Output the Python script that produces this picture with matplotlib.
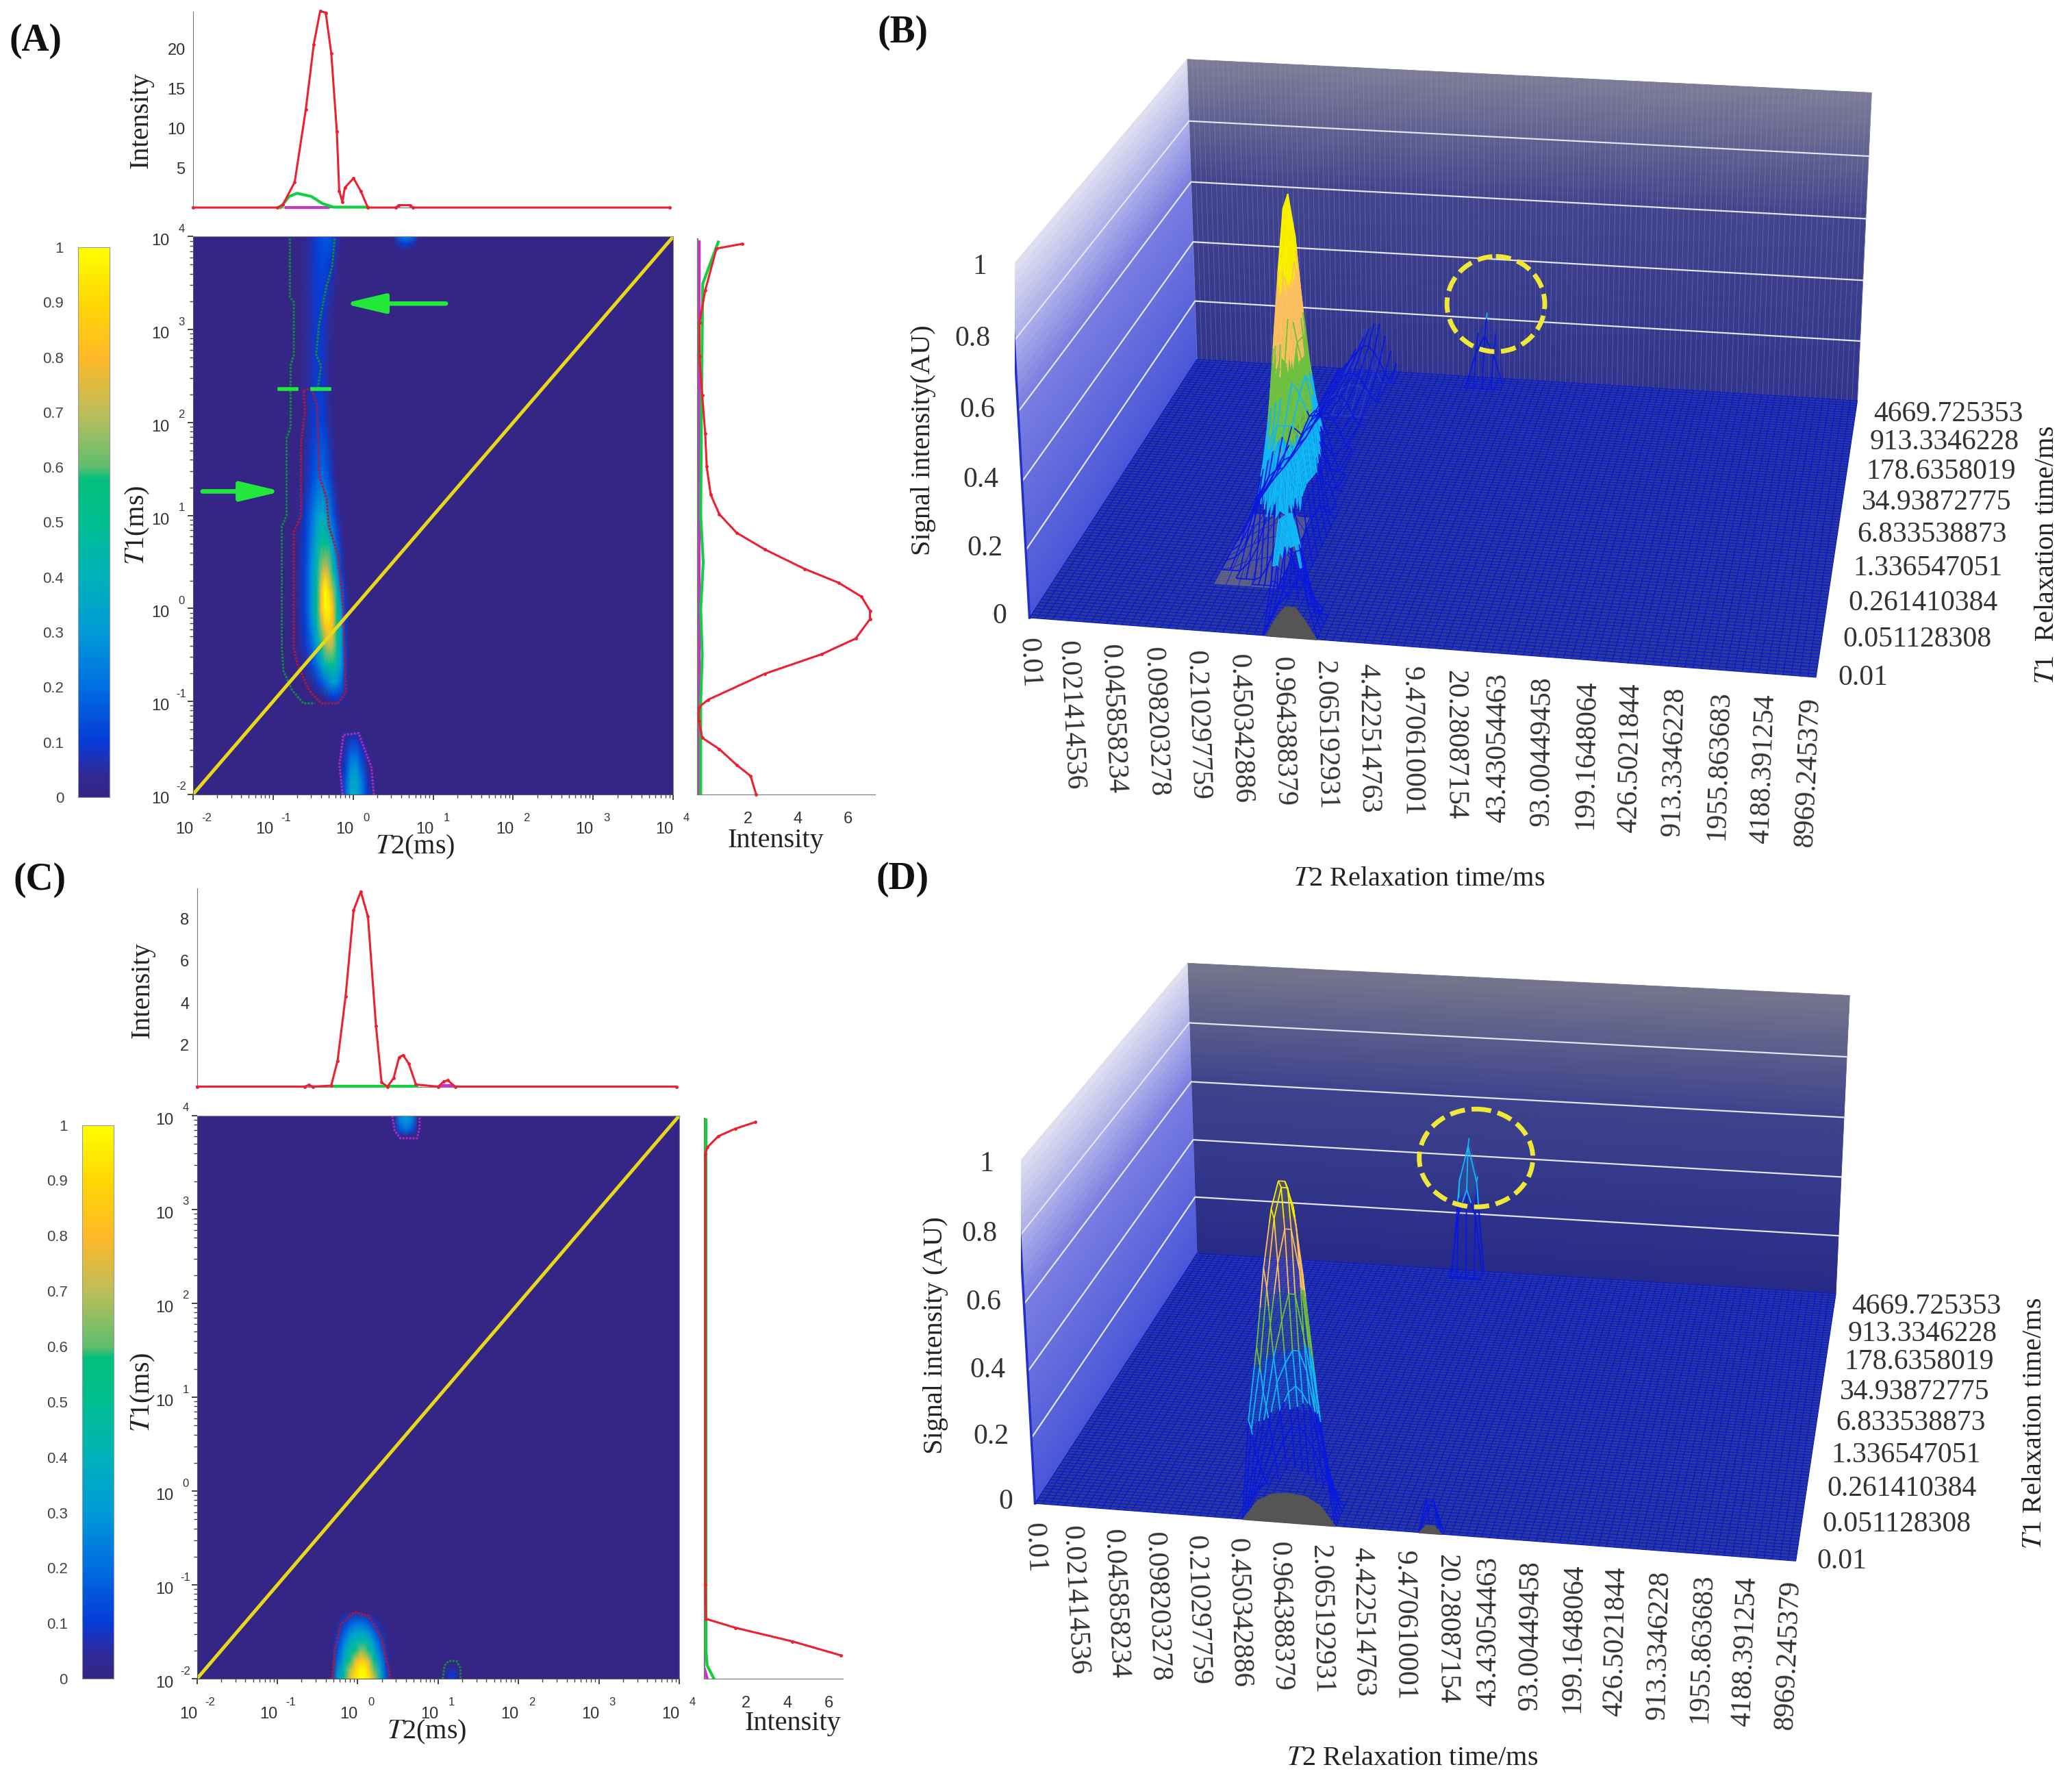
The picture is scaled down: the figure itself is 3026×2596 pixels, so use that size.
import numpy as np
import matplotlib
matplotlib.use('Agg')
import matplotlib.pyplot as plt
from matplotlib.colors import LinearSegmentedColormap
from matplotlib.patches import Ellipse
from mpl_toolkits.mplot3d.art3d import Poly3DCollection, Line3DCollection

plt.rcParams['font.family'] = ['Liberation Serif', 'DejaVu Serif']
plt.rcParams['mathtext.fontset'] = 'stix'

W, H = 1568.0, 1345.0
fig = plt.figure(figsize=(30.26, 25.96), dpi=100, facecolor='white')

# ---- colours
cmap_pos = [0, .04, .07, .1, .2, .3, .4, .5, .58, .6, .7, .8, .9, 1]
cmap_rgb = [(53, 38, 134), (48, 42, 150), (30, 50, 185), (5, 60, 215), (0, 110, 225), (0, 155, 215), (0, 178, 185),
            (0, 190, 145), (5, 190, 125), (95, 190, 110), (190, 190, 90), (255, 185, 40), (255, 215, 5), (255, 255, 0)]
parula = LinearSegmentedColormap.from_list('p', [(p, tuple(c / 255 for c in r)) for p, r in zip(cmap_pos, cmap_rgb)])

# ---- panel A heat data, log10 T2 / log10 T1
a_main_t2 = [-.75, -.68, -.6, -.52, -.45, -.4, -.35, -.3, -.25, -.2, -.15, -.1, -.05]
a_main_t1 = [-1.05, -.95, -.8, -.6, -.4, -.2, 0, .2, .4, .7, 1, 1.4, 2, 2.6, 3.2, 3.7, 4]
a_main_z = [
    [0, 0, 0, 0, 0, 0, 0, 0, 0, 0, 0, 0, 0],
    [0, 0, 0, 0, 0, .01, .04, .08, .1, .1, .08, .03, 0],
    [0, 0, 0, .03, .08, .14, .2, .26, .3, .28, .2, .08, 0],
    [0, .01, .04, .12, .22, .32, .42, .5, .5, .42, .3, .12, 0],
    [0, .02, .08, .18, .32, .5, .65, .72, .68, .52, .32, .12, 0],
    [0, .04, .1, .24, .42, .65, .82, .88, .78, .56, .32, .1, 0],
    [0, .05, .12, .28, .5, .8, .98, .97, .8, .55, .3, .1, 0],
    [0, .05, .12, .28, .48, .78, 1.0, .88, .66, .42, .2, .06, 0],
    [0, .05, .12, .28, .45, .66, .78, .68, .48, .28, .12, .02, 0],
    [0, .04, .1, .24, .38, .5, .52, .44, .3, .16, .06, 0, 0],
    [0, .03, .09, .2, .3, .36, .34, .26, .15, .07, .01, 0, 0],
    [0, .01, .05, .12, .18, .2, .18, .13, .06, .01, 0, 0, 0],
    [0, 0, .03, .08, .11, .11, .09, .05, .01, 0, 0, 0, 0],
    [0, 0, .03, .07, .09, .09, .07, .03, 0, 0, 0, 0, 0],
    [0, 0, .03, .07, .09, .09, .08, .05, .02, 0, 0, 0, 0],
    [0, 0, .03, .07, .1, .12, .12, .1, .07, .03, 0, 0, 0],
    [0, 0, .02, .07, .11, .14, .16, .16, .12, .07, .03, 0, 0]]
a_low_t2 = [-.17, -.1, -.03, .04, .11, .18, .25]
a_low_t1 = [-2, -1.85, -1.7, -1.55, -1.4, -1.3]
a_low_z = [
    [0, .16, .34, .36, .24, .1, 0],
    [0, .14, .32, .34, .22, .08, 0],
    [0, .1, .26, .28, .16, .04, 0],
    [0, .07, .18, .19, .09, .01, 0],
    [0, .03, .08, .08, .02, 0, 0],
    [0, 0, 0, 0, 0, 0, 0]]
a_top_t2 = [.5, .58, .66, .74, .82]
a_top_t1 = [3.85, 3.93, 4]
a_top_z = [[0, 0, 0, 0, 0], [0, .08, .12, .08, 0], [0, .2, .26, .2, 0]]

# ---- panel A contours
a_green_l_t2 = [-.79, -.79, -.74, -.74, -.78, -.78, -.83, -.83, -.89, -.89, -.87, -.76, -.62, -.48]
a_green_l_t1 = [3.98, 3.35, 3.3, 2.73, 2.61, 1.95, 1.83, 1.0, .88, -.43, -.67, -.88, -1.02, -1.02]
a_green_r_t2 = [-.23, -.26, -.33, -.37, -.43, -.46, -.4, -.44]
a_green_r_t1 = [3.98, 3.68, 3.47, 3.3, 3.03, 2.73, 2.61, 2.37]
a_red_t2 = [-.62, -.52, -.45, -.42, -.33, -.3, -.19, -.16, -.12, -.09, -.19, -.4, -.55, -.69, -.74, -.74, -.65, -.65, -.6, -.62]
a_red_t1 = [2.34, 2.37, 2.19, 1.42, 1.18, .88, .58, .34, -.01, -.91, -1.02, -1.02, -.88, -.61, -.43, .82, 1.0, 1.77, 2.13, 2.34]
a_mag_t2 = [-.13, -.17, -.12, .07, .13, .23, .26]
a_mag_t1 = [-2, -1.68, -1.36, -1.34, -1.48, -1.71, -2]

# ---- panel A marginals
a_top_red_t2 = [-2, -.94, -.87, -.72, -.58, -.48, -.4, -.33, -.26, -.19, -.16, -.12, -.09, .02, .11, .2, .55, .59, .73, .77, 4]
a_top_red_v = [0, 0, .35, 3.2, 12.4, 20.6, 24.8, 24.6, 19.5, 9.6, 2.1, .7, 2.5, 3.7, 2.1, 0, 0, .3, .3, 0, 0]
a_top_green_t2 = [-.9, -.79, -.69, -.51, -.37, -.23, .2]
a_top_green_v = [0, 1.4, 1.8, 1.4, .5, .05, .05]
a_top_mag_t2 = [-.83, -.3]
a_top_mag_v = [0, 0]
a_side_red_v = [2.34, 2.11, 1.55, .86, .18, .05, .05, .41, 2.68, 4.95, 6.32, 6.89, 6.89, 6.55, 5.64, 4.27, 2.68, 1.55, .86, .52, .36, .30, .18, .07, .07, .30, .75, 1.77]
a_side_red_t1 = [-2, -1.8, -1.68, -1.51, -1.39, -1.21, -1.06, -.98, -.7, -.49, -.32, -.11, -.02, .13, .28, .43, .64, .82, 1.02, 1.23, 1.53, 1.89, 2.3, 2.72, 3.08, 3.43, 3.88, 3.93]
a_side_green_v = [.12, .12, .18, .12, .22, .12, .15, .2, .82]
a_side_green_t1 = [-2, -1, -.5, 0, .5, 1, 2.2, 3.5, 3.95]
a_side_mag_v = [.06, .06]
a_side_mag_t1 = [-2, 3.95]

# ---- panel C heat data
c_main_t2 = [-.32, -.25, -.17, -.1, -.03, .03, .08, .14, .2, .28, .36, .42]
c_main_t1 = [-2, -1.9, -1.8, -1.7, -1.6, -1.5, -1.4, -1.3]
c_main_z = [
    [0, .3, .52, .75, .92, 1.0, 1.0, .93, .75, .45, .15, 0],
    [0, .26, .45, .68, .88, .97, .97, .86, .62, .36, .11, 0],
    [0, .18, .36, .56, .74, .84, .84, .72, .5, .28, .08, 0],
    [0, .14, .3, .45, .56, .64, .64, .52, .38, .2, .05, 0],
    [0, .1, .24, .36, .42, .46, .46, .4, .28, .14, .02, 0],
    [0, .06, .16, .26, .32, .34, .32, .28, .18, .08, 0, 0],
    [0, .02, .1, .16, .2, .2, .18, .14, .08, .02, 0, 0],
    [0, 0, .02, .05, .06, .05, .04, .02, 0, 0, 0, 0]]
c_top_t2 = [.45, .52, .6, .68, .75]
c_top_t1 = [3.78, 3.85, 3.93, 4]
c_top_z = [[0, 0, 0, 0, 0], [0, .14, .2, .14, 0], [0, .22, .3, .22, 0], [0, .24, .32, .24, 0]]
c_small_t2 = [1.08, 1.14, 1.2, 1.26]
c_small_t1 = [-2, -1.92, -1.85]
c_small_z = [[0, .1, .1, 0], [0, .07, .07, 0], [0, 0, 0, 0]]

c_red_t2 = [-.32, -.28, -.21, -.04, .14, .29, .36, .41]
c_red_t1 = [-2, -1.67, -1.42, -1.29, -1.33, -1.55, -1.8, -2]
c_mag_t2 = [.43, .46, .53, .74, .77, .77]
c_mag_t1 = [4, 3.84, 3.76, 3.76, 3.87, 4]
c_green_t2 = [1.06, 1.08, 1.13, 1.23, 1.28, 1.28]
c_green_t1 = [-2, -1.86, -1.81, -1.81, -1.89, -2]

c_top_red_t2 = [-2, -.65, -.6, -.55, -.32, -.24, -.14, -.04, .05, .14, .24, .31, .385, .46, .53, .58, .65, .74, 1.02, 1.09, 1.14, 1.23, 4]
c_top_red_v = [0, 0, .08, 0, .05, 1.24, 4.3, 8.4, 9.3, 8.1, 2.9, .2, 0, .4, 1.4, 1.5, 1.1, .1, 0, .25, .3, 0, 0]
c_top_green_t2 = [-.32, .75]
c_top_green_v = [.02, .02]
c_top_mag_t2 = [1.05, 1.2]
c_top_mag_v = [.06, .06]
c_side_red_v = [6.6, 4.25, 1.5, .08, .05, .05, .14, .68, 1.5, 2.47]
c_side_red_t1 = [-1.75, -1.6, -1.455, -1.36, -1, 3.6, 3.67, 3.79, 3.87, 3.94]
c_side_green_v = [.47, .14, .08, .08]
c_side_green_t1 = [-2, -1.86, -1.7, 3.97]
c_side_mag_v = [.14, .02]
c_side_mag_t1 = [-2, -1.9]

# ---- 3D panel ticks
t2_labels = ['0.01', '0.021414536', '0.045858234', '0.098203278', '0.210297759', '0.450342886', '0.964388379',
             '2.065192931', '4.422514763', '9.470610001', '20.28087154', '43.43054463', '93.00449458',
             '199.1648064', '426.5021844', '913.3346228', '1955.863683', '4188.391254', '8969.245379']
t1_labels = ['0.01', '0.051128308', '0.261410384', '1.336547051', '6.833538873', '34.93872775', '178.6358019',
             '913.3346228', '4669.725353']
z_ticks = [0, .2, .4, .6, .8, 1]
z_labels = ['0', '0.2', '0.4', '0.6', '0.8', '1']

# spike heights in the 3D views, which differ from the flat map colours
b_tail_t2 = [-.62, -.52, -.44, -.36, -.28, -.2]
b_tail_t1 = [2.8, 3.2, 3.6, 4]
b_tail_z = [[0, 0, 0, 0, 0, 0], [0, .03, .05, .05, .03, 0], [0, .06, .1, .1, .06, 0], [0, .07, .14, .14, .07, 0]]
b_skirt_t2 = [-.75, -.65, -.55, -.45, -.35, -.25]
b_skirt_t1 = [-1.1, -.8, -.5, -.2, .1, .4]
b_skirt_z = [[0, 0, 0, 0, 0, 0], [0, .01, .03, .04, .05, 0], [0, .02, .04, .06, .07, 0],
             [0, .02, .04, .06, .08, 0], [0, .01, .03, .05, .06, 0], [0, 0, 0, 0, 0, 0]]
b_spike_t2 = [.52, .6, .68, .76, .84]
b_spike_t1 = [3.7, 3.85, 4]
b_spike_z = [[0, 0, 0, 0, 0], [0, .1, .16, .1, 0], [0, .15, .22, .15, 0]]
d_spike_z = [[0, 0, 0, 0, 0], [0, .21, .3, .21, 0], [0, .32, .44, .32, 0], [0, .33, .46, .33, 0]]
b_dome_t2 = [-.15, -.08, 0, .08, .16, .24]
b_dome_z = [0, .05, .09, .09, .05, 0]
d_dome_t2 = [-.32, -.2, -.08, .05, .18, .3, .42]
d_dome_z = [0, .06, .085, .09, .085, .06, 0]
d_dome2_t2 = [1.08, 1.14, 1.2, 1.26]
d_dome2_z = [0, .025, .025, 0]


def add_ax(x0, y0, x1, y1, **kw):
    return fig.add_axes([x0 / W, 1 - y1 / H, (x1 - x0) / W, (y1 - y0) / H], **kw)


def pw(v):
    return 10.0 ** np.asarray(v, dtype=float)


def heat_panel(box, patches, contours):
    ax = add_ax(*box)
    ax.set_facecolor(parula(0.0))
    ax.set_xscale('log')
    ax.set_yscale('log')
    for t2, t1, z in patches:
        ax.pcolormesh(pw(t2), pw(t1), np.array(z), cmap=parula, vmin=0, vmax=1, shading='gouraud')
    for t2, t1, col in contours:
        ax.plot(pw(t2), pw(t1), color=col, lw=2.2, ls=(0, (1, .6)))
    ax.plot([1e-2, 1e4], [1e-2, 1e4], color='#e8d818', lw=3.6)
    ax.set_xlim(1e-2, 1e4)
    ax.set_ylim(1e-2, 1e4)
    ax.spines['top'].set_color('#888888')
    ax.spines['right'].set_color('#888888')
    ax.spines['left'].set_color('#555555')
    ax.spines['bottom'].set_color('#555555')
    ax.set_xticks(pw([-2, -1, 0, 1, 2, 3, 4]))
    ax.set_yticks(pw([-2, -1, 0, 1, 2, 3, 4]))
    ax.tick_params(which='major', length=6, width=1.4, color='#444444', labelbottom=False, labelleft=False)
    ax.tick_params(which='minor', length=3.5, width=1, color='#444444', labelbottom=False, labelleft=False)
    for e in [-2, -1, 0, 1, 2, 3, 4]:
        v = 10.0 ** e
        ax.annotate('10', (v, 0), xycoords=('data', 'axes fraction'), xytext=(-9, -37), textcoords='offset points',
                    ha='center', va='center', fontsize=17, family='Liberation Sans', color='#333333')
        ax.annotate(str(e), (v, 0), xycoords=('data', 'axes fraction'), xytext=(14, -25), textcoords='offset points',
                    ha='center', va='center', fontsize=12, family='Liberation Sans', color='#333333')
        ax.annotate('10', (0, v), xycoords=('axes fraction', 'data'), xytext=(-34, -5), textcoords='offset points',
                    ha='center', va='center', fontsize=17, family='Liberation Sans', color='#333333')
        ax.annotate(str(e), (0, v), xycoords=('axes fraction', 'data'), xytext=(-12, 8), textcoords='offset points',
                    ha='center', va='center', fontsize=12, family='Liberation Sans', color='#333333')
    return ax


def top_panel(box, ymax, ticks, red, green, mag):
    ax = add_ax(*box)
    ax.set_xscale('log')
    ax.plot(pw(mag[0]), mag[1], color='#e020e0', lw=3, zorder=2, clip_on=False)
    ax.plot(pw(green[0]), green[1], color='#10d040', lw=3, zorder=3, clip_on=False)
    ax.plot(pw(red[0]), red[1], color='#ee2030', lw=2.2, marker='.', ms=5, zorder=4, clip_on=False)
    ax.set_xlim(1e-2, 1e4)
    ax.set_ylim(0, ymax)
    ax.set_yticks(ticks)
    ax.set_xticks([])
    ax.xaxis.set_minor_locator(plt.NullLocator())
    ax.tick_params(axis='y', length=0, pad=8, labelsize=17, labelcolor='#333333')
    for t in ax.get_yticklabels():
        t.set_family('Liberation Sans')
    ax.spines['top'].set_visible(False)
    ax.spines['right'].set_visible(False)
    ax.spines['left'].set_color('#777777')
    ax.spines['bottom'].set_color('#777777')
    ax.patch.set_visible(False)
    return ax


def side_panel(box, xmax, red, green, mag):
    ax = add_ax(*box)
    ax.set_yscale('log')
    ax.plot(mag[0], pw(mag[1]), color='#e020e0', lw=3, zorder=2)
    ax.plot(green[0], pw(green[1]), color='#10d040', lw=3, zorder=3)
    ax.plot(red[0], pw(red[1]), color='#ee2030', lw=2.2, marker='.', ms=5, zorder=4, clip_on=False)
    ax.set_xlim(0, xmax)
    ax.set_ylim(1e-2, 10 ** 3.98)
    ax.set_xticks([2, 4, 6])
    ax.set_yticks([])
    ax.yaxis.set_minor_locator(plt.NullLocator())
    ax.tick_params(axis='x', length=0, pad=18, labelsize=17, labelcolor='#333333')
    for t in ax.get_xticklabels():
        t.set_family('Liberation Sans')
    ax.spines['top'].set_visible(False)
    ax.spines['right'].set_visible(False)
    ax.spines['left'].set_color('#777777')
    ax.spines['left'].set_linewidth(1.6)
    ax.spines['bottom'].set_color('#777777')
    ax.patch.set_visible(False)
    return ax


def cbar_panel(box):
    ax = add_ax(*box)
    grad = np.linspace(0, 1, 256).reshape(-1, 1)
    ax.imshow(grad, origin='lower', aspect='auto', cmap=parula, extent=[0, 1, 0, 1], vmin=0, vmax=1)
    ax.set_xticks([])
    ax.set_yticks(np.arange(0, 1.01, .1))
    ax.set_yticklabels(['0', '0.1', '0.2', '0.3', '0.4', '0.5', '0.6', '0.7', '0.8', '0.9', '1'])
    ax.tick_params(axis='y', length=0, pad=15, labelsize=16, labelcolor='#444444')
    for t in ax.get_yticklabels():
        t.set_family('Liberation Sans')
    for s in ax.spines.values():
        s.set_color('#999999')
    return ax


def wall_cols(stops):
    zs = [s[0] for s in stops]
    out = []
    for z in np.linspace(0, 1, 41)[:-1] + .0125:
        out.append([np.interp(z, zs, [s[1][i] for s in stops]) / 255 for i in range(3)])
    return out


def mesh(ax, t2, t1, z, edges, colours, filled, zorder, lw=1.3, sub=4, thin='22', face=None):
    # each table cell is split for the colour bands, the wire stays on the table grid
    z = np.array(z, dtype=float)
    xi = np.interp(np.arange(0, len(t2) - 1 + 1e-9, 1 / sub), np.arange(len(t2)), t2)
    yi = np.interp(np.arange(0, len(t1) - 1 + 1e-9, 1 / sub), np.arange(len(t1)), t1)
    zx = np.array([np.interp(xi, t2, r) for r in z])
    zi = np.array([np.interp(yi, t1, zx[:, k]) for k in range(len(xi))]).T
    polys, faces = [], []
    segs, seg_cols = [], []
    for i in range(len(yi) - 1):
        for j in range(len(xi) - 1):
            zz = [zi[i, j], zi[i, j + 1], zi[i + 1, j + 1], zi[i + 1, j]]
            if max(zz) <= 0:
                continue
            polys.append([(xi[j], yi[i], zz[0]), (xi[j + 1], yi[i], zz[1]), (xi[j + 1], yi[i + 1], zz[2]), (xi[j], yi[i + 1], zz[3])])
            k = int(np.searchsorted(edges, np.mean(zz)))
            if face is not None:
                faces.append(face)
            else:
                faces.append(colours[k] if filled and k > 0 else colours[k] + thin)
            if i % sub == 0:
                segs.append([polys[-1][0], polys[-1][1]])
                seg_cols.append(colours[k])
            if j % sub == 0:
                segs.append([polys[-1][0], polys[-1][3]])
                seg_cols.append(colours[k])
    pc = Poly3DCollection(polys, linewidths=0)
    pc.set_facecolor(faces)
    pc.set_edgecolor('none')
    pc.set_zorder(zorder)
    ax.add_collection3d(pc)
    lc = Line3DCollection(segs, colors=seg_cols, linewidths=lw)
    lc.set_zorder(zorder + .1)
    ax.add_collection3d(lc)


def dome(ax, t2, z, zorder):
    pts = [(x, -2, v) for x, v in zip(t2, z)]
    pc = Poly3DCollection([pts], facecolor='#555555', edgecolor='#555555')
    pc.set_zorder(zorder)
    ax.add_collection3d(pc)


def view3d(center, size, elev, azim, box_zoom, focal, back_stops, left_stops, stripes):
    cx, cy = center
    ax = add_ax(cx - size / 2, cy - size / 2, cx + size / 2, cy + size / 2, projection='3d', computed_zorder=False)
    ax.view_init(elev=elev, azim=azim)
    ax.set_proj_type('persp', focal_length=focal)
    ax.set_box_aspect((1, .89, .475), zoom=box_zoom)
    ax.set_axis_off()
    ax.patch.set_visible(False)
    zz = np.linspace(0, 1, 41)
    bc = wall_cols(back_stops)
    polys = [[(-2, 4, zz[i]), (4, 4, zz[i]), (4, 4, zz[i + 1]), (-2, 4, zz[i + 1])] for i in range(40)]
    pc = Poly3DCollection(polys, facecolor=bc, edgecolor=bc, linewidths=.6)
    pc.set_zorder(1)
    ax.add_collection3d(pc)
    lc = wall_cols(left_stops)
    polys = [[(-2, -2, zz[i]), (-2, 4, zz[i]), (-2, 4, zz[i + 1]), (-2, -2, zz[i + 1])] for i in range(40)]
    pc = Poly3DCollection(polys, facecolor=lc, edgecolor=lc, linewidths=.6)
    pc.set_zorder(1)
    ax.add_collection3d(pc)
    if stripes:
        segs = [[(x, 4, 0), (x, 4, 1)] for x in np.linspace(-2, 4, 130)]
        l = Line3DCollection(segs, colors='#9a9ac0', linewidths=.6, alpha=.4)
        l.set_zorder(1.5)
        ax.add_collection3d(l)
    for z in z_ticks[1:-1]:
        ax.plot([-2, -2, 4], [-2, 4, 4], [z, z, z], color='#e4e4f0', lw=1.6, zorder=2)
    ax.plot([-2, -2], [-2, -2], [0, 1], color='#2030c8', lw=2.5, zorder=2)
    # floor
    pc = Poly3DCollection([[(-2, -2, 0), (4, -2, 0), (4, 4, 0), (-2, 4, 0)]], facecolor='#2a3a9c', edgecolor='none')
    pc.set_zorder(3)
    ax.add_collection3d(pc)
    gx = np.linspace(-2, 4, 100)
    segs = [[(x, -2, 0), (x, 4, 0)] for x in gx] + [[(-2, y, 0), (4, y, 0)] for y in gx]
    l = Line3DCollection(segs, colors='#0a18cc', linewidths=.85)
    l.set_zorder(3.5)
    ax.add_collection3d(l)
    # tick texts, placed on the axes from their own values
    for s in t2_labels:
        ax.text(np.log10(float(s)), -2.05, -.05, s, zdir='z', ha='center', va='top', fontsize=30, color='#333333', zorder=9)
    for s in t1_labels:
        ax.text(4.16, np.log10(float(s)) + .02, 0, s, ha='left', va='center', fontsize=30, color='#333333', zorder=9)
    for z, s in zip(z_ticks, z_labels):
        ax.text(-2.18, -2, z, s, ha='right', va='center', fontsize=30, color='#333333', zorder=9)
    ax.set_xlim(-2, 4, view_margin=0)
    ax.set_ylim(-2, 4, view_margin=0)
    ax.set_zlim(0, 1, view_margin=0)
    return ax


def draw_text(ov, x, y, s, size, rot=0, **kw):
    ov.text(x, y, s, fontsize=size, rotation=rot, ha='center', va='center', color=kw.pop('color', '#222222'), **kw)


# ---- panels A and C
green_d = '#108a40'
red_d = '#b01838'
mag_d = '#a828c8'
ax_a = heat_panel((146, 179, 509.5, 601),
                  [(a_main_t2, a_main_t1, a_main_z), (a_low_t2, a_low_t1, a_low_z), (a_top_t2, a_top_t1, a_top_z)],
                  [(a_green_l_t2, a_green_l_t1, green_d), (a_green_r_t2, a_green_r_t1, green_d),
                   (a_red_t2, a_red_t1, red_d), (a_mag_t2, a_mag_t1, mag_d)])
for s, e in [(-.92, -.71), (-.51, -.3)]:
    ax_a.plot(pw([s, e]), pw([2.36, 2.36]), color='#22e83c', lw=4)
for a, b in [((1.16, 3.28), (-.12, 3.28)), ((-1.88, 1.26), (-.89, 1.26))]:
    ax_a.annotate('', xy=pw(b), xytext=pw(a),
                  arrowprops=dict(arrowstyle='-|>,head_length=3.6,head_width=.85', color='#22e83c', lw=4.7, shrinkA=0, shrinkB=0))
top_panel((146, 9, 507, 157), 24.7, [5, 10, 15, 20], (a_top_red_t2, a_top_red_v), (a_top_green_t2, a_top_green_v), (a_top_mag_t2, a_top_mag_v))
side_panel((528, 181, 662, 601), 7.08, (a_side_red_v, a_side_red_t1), (a_side_green_v, a_side_green_t1), (a_side_mag_v, a_side_mag_t1))
cbar_panel((59, 187, 83, 603))

heat_panel((149, 844, 514, 1270),
           [(c_main_t2, c_main_t1, c_main_z), (c_top_t2, c_top_t1, c_top_z), (c_small_t2, c_small_t1, c_small_z)],
           [(c_red_t2, c_red_t1, red_d), (c_mag_t2, c_mag_t1, mag_d), (c_green_t2, c_green_t1, green_d)])
top_panel((149, 672, 512, 822), 9.45, [2, 4, 6, 8], (c_top_red_t2, c_top_red_v), (c_top_green_t2, c_top_green_v), (c_top_mag_t2, c_top_mag_v))
side_panel((533, 846, 638, 1270), 6.7, (c_side_red_v, c_side_red_t1), (c_side_green_v, c_side_green_t1), (c_side_mag_v, c_side_mag_t1))
cbar_panel((62, 851, 86, 1270))

# ---- panels B and D
b_edges = [.2, .37, .58, .78]
d_edges = [.27, .46, .64, .86]
band_cols = ['#0818e0', '#10b8f8', '#70c040', '#fcc060', '#f8f000']
back_b = [(0, (48, 52, 140)), (.6, (66, 68, 140)), (1, (125, 125, 150))]
left_b = [(0, (72, 85, 215)), (.6, (120, 125, 225)), (1, (225, 225, 240))]
back_d = [(0, (38, 42, 135)), (.6, (62, 66, 140)), (1, (118, 118, 140))]

ax_b = view3d((1106, 267), 676, 21.7, -80.6, 1.145, .686, back_b, left_b, True)
mesh(ax_b, b_skirt_t2, b_skirt_t1, b_skirt_z, b_edges, ['#1a28c8'] * 5, False, 4.5, lw=.8, face='#707078cc')
mesh(ax_b, a_main_t2, a_main_t1, a_main_z, b_edges, band_cols, True, 5)
mesh(ax_b, a_low_t2, a_low_t1, a_low_z, b_edges, band_cols, True, 6)
mesh(ax_b, b_tail_t2, b_tail_t1, b_tail_z, b_edges, ['#3040c0'] * 5, False, 4)
mesh(ax_b, b_spike_t2, b_spike_t1, b_spike_z, b_edges, band_cols, False, 4)
dome(ax_b, b_dome_t2, b_dome_z, 7)

ax_d = view3d((1099.5, 943.5), 654, 21.7, -80.6, 1.145, .686, back_d, left_b, False)
mesh(ax_d, c_main_t2, c_main_t1, c_main_z, d_edges, band_cols, False, 5)
mesh(ax_d, c_top_t2, c_top_t1, d_spike_z, d_edges, band_cols, False, 4)
mesh(ax_d, c_small_t2, c_small_t1, c_small_z, d_edges, band_cols, False, 6)
dome(ax_d, d_dome_t2, d_dome_z, 7)
dome(ax_d, d_dome2_t2, d_dome2_z, 7)

# ---- overlay for letters, axis titles and circles
ov = fig.add_axes([0, 0, 1, 1], zorder=20)
ov.set_xlim(0, W)
ov.set_ylim(H, 0)
ov.axis('off')
ov.patch.set_visible(False)
for x, y, s in [(27, 31, '(A)'), (683, 25, '(B)'), (30, 666, '(C)'), (683, 665, '(D)')]:
    draw_text(ov, x, y, s, 40, weight='bold', color='#111111')
t1lab = r'$\mathit{T}$1(ms)'
t2lab = r'$\mathit{T}$2(ms)'
draw_text(ov, 107, 91, 'Intensity', 29, 90)
draw_text(ov, 104, 397, t1lab, 29, 90)
draw_text(ov, 314, 641, t2lab, 29)
draw_text(ov, 587, 636, 'Intensity', 29)
draw_text(ov, 108, 749, 'Intensity', 29, 90)
draw_text(ov, 108, 1053, t1lab, 29, 90)
draw_text(ov, 323, 1310, t2lab, 29)
draw_text(ov, 600, 1304, 'Intensity', 29)
draw_text(ov, 699, 333, 'Signal intensity(AU)', 29, 90)
draw_text(ov, 1074, 665, r'$\mathit{T}$2 Relaxation time/ms', 29)
draw_text(ov, 1549, 420, r'$\mathit{T}$1  Relaxation time/ms', 29, 90)
draw_text(ov, 708, 1010, 'Signal intensity (AU)', 29, 90)
draw_text(ov, 1069, 1330, r'$\mathit{T}$2 Relaxation time/ms', 29)
draw_text(ov, 1540, 1077, r'$\mathit{T}$1 Relaxation time/ms', 29, 90)
for c, rx, ry in [((1132, 230), 37, 36), ((1117, 876), 43, 37)]:
    ov.add_patch(Ellipse(c, 2 * rx, 2 * ry, fill=False, ec='#f0e838', lw=5, ls=(0, (3.2, 1.4))))

fig.savefig('out.png', dpi=100)
